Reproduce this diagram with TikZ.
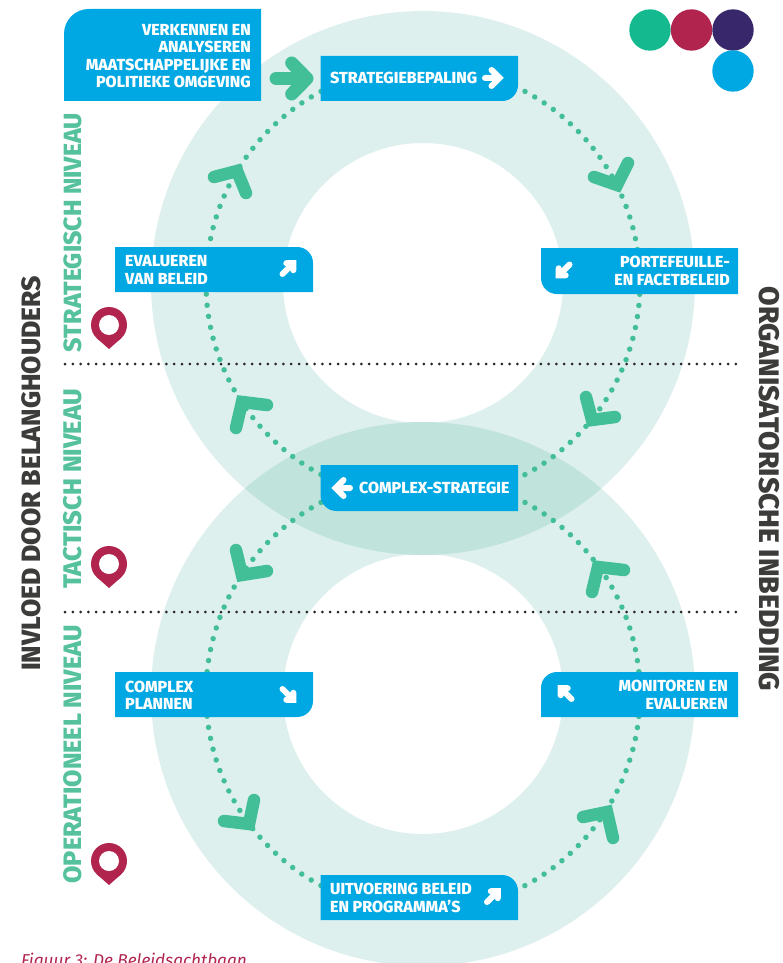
\documentclass[tikz,border=0pt]{standalone}
\usepackage{fontspec}
\setmainfont{Fira Sans}[BoldFont={Fira Sans ExtraBold}]
\definecolor{cring}{HTML}{DEF0EE}
\definecolor{clens}{HTML}{C0E3DC}
\definecolor{cblue}{HTML}{00A8E3}
\definecolor{cgreen}{HTML}{43BF98}
\definecolor{ctext}{HTML}{56C19D}
\definecolor{ccrim}{HTML}{B0244E}
\definecolor{cpurp}{HTML}{39276B}
\definecolor{cteal}{HTML}{15B990}
\definecolor{cdark}{HTML}{3C3C3B}
\tikzset{
  dotring/.style={cgreen,line width=5.5pt,line cap=round,dash pattern=on 0pt off 11.176pt},
  chevron/.style={cgreen,line width=12.5pt,line cap=round,line join=miter},
  warrow/.style={white,line width=6pt,line cap=round,line join=miter},
  bluefill/.style={fill=cblue},
  lbl/.style={white,font=\fontsize{16}{17.3}\selectfont\bfseries,inner sep=0pt},
  side/.style={inner sep=0pt},
  level/.style={side,ctext,rotate=90},
  levelline/.style={black!85,line width=3pt,line cap=round,dash pattern=on 0pt off 7.8pt},
  pinmark/.pic={
    \fill[ccrim] (0,0) circle[radius=18pt];
    \fill[ccrim] (-12.48,12.97) -- (0,24) -- (12.48,12.97) -- cycle;
    \fill[white] (0,0) circle[radius=10pt];
  },
  smallarrow/.pic={
    \draw[warrow] (-5.5,5.5) -- (5.3,-5.3) (-1.7,-5.3) -- (5.3,-5.3) -- (5.3,1.7);
  }
}
\begin{document}
\begin{tikzpicture}[x=1pt,y=-1pt]
\useasboundingbox (0,0) rectangle (783,963);
\clip (0,0) rectangle (783,963);
% rings
\fill[cring,even odd rule] (423,283) circle[radius=272pt] (423,283) circle[radius=140pt];
\fill[cring,even odd rule] (423,694) circle[radius=272pt] (423,694) circle[radius=140pt];
\begin{scope}
  \clip (423,283) circle[radius=272pt];
  \fill[clens] (423,694) circle[radius=272pt];
\end{scope}
% dotted circuits
\draw[dotring] (423,283) circle[radius=217pt];
\draw[dotring] (423,694) circle[radius=217pt];
% level separators
\draw[levelline] (65,364) -- (740,364);
\draw[levelline] (65,612) -- (740,612);
% chevrons
\draw[chevron] (214,177) -- (237,171) -- (246,193);
\draw[chevron] (594,177) -- (617,185) -- (628,163);
\draw[chevron] (586,397) -- (592,420) -- (615,417);
\draw[chevron] (267,405) -- (242,402) -- (236,428);
\draw[chevron] (236,550) -- (242,575) -- (267,571);
\draw[chevron] (592,592) -- (598,567) -- (624,570);
\draw[chevron] (224,821) -- (249,824) -- (254,800);
\draw[chevron] (583,817) -- (607,812) -- (613,838);
% boxes
\fill[bluefill] (64,34) .. controls (64,20) and (75,9) .. (89,9) -- (261,9) -- (261,101) -- (64,101) -- cycle;
\fill[bluefill] (320.5,56) -- (518,56) -- (518,85) .. controls (518,94) and (511,101) .. (502,101) -- (320.5,101) -- cycle;
\fill[bluefill] (541,248) -- (738,248) -- (738,294) -- (557,294) .. controls (548,294) and (541,287) .. (541,278) -- cycle;
\fill[bluefill] (115,247) -- (297,247) .. controls (306,247) and (313,254) .. (313,263) -- (313,292) -- (115,292) -- cycle;
\fill[bluefill] (320.5,465) -- (518,465) -- (518,511) -- (336.5,511) .. controls (327.5,511) and (320.5,504) .. (320.5,495) -- cycle;
\fill[bluefill] (115,672) -- (313,672) -- (313,701) .. controls (313,710) and (306,717) .. (297,717) -- (115,717) -- cycle;
\fill[bluefill] (557,672) -- (738,672) -- (738,717) -- (541,717) -- (541,688) .. controls (541,679) and (548,672) .. (557,672) -- cycle;
\fill[bluefill] (320.5,875) -- (502,875) .. controls (511,875) and (518,882) .. (518,891) -- (518,920) -- (320.5,920) -- cycle;
% top-left green arrow
\draw[chevron,line width=13pt] (276,78.5) -- (305,78.5);
\draw[chevron,line width=13pt,line join=round] (291.7,63) -- (307,78.5) -- (291.7,94);
% white arrows
\draw[warrow] (485,78) -- (499.5,78) (491.5,70) -- (499.5,78) -- (491.5,86);
\draw[warrow] (350,488) -- (335.5,488) (343.5,480) -- (335.5,488) -- (343.5,496);
\pic at (288,268.5) {smallarrow};
\pic[rotate=180] at (564,270) {smallarrow};
\pic[rotate=-90] at (288,694.5) {smallarrow};
\pic[rotate=90] at (566,693.5) {smallarrow};
\pic at (492.5,896.5) {smallarrow};
% labels
\node[lbl,align=right,anchor=east] (verkennen) at (251,56) {VERKENNEN EN\\ANALYSEREN\\MAATSCHAPPELIJKE EN\\POLITIEKE OMGEVING};
\node[lbl,anchor=west] (strategie) at (330,78) {STRATEGIEBEPALING};
\node[lbl,align=right,anchor=east] (portefeuille) at (730,271) {PORTEFEUILLE-\\EN FACETBELEID};
\node[lbl,align=left,anchor=west] (evalueren) at (125,270) {EVALUEREN\\VAN BELEID};
\node[lbl,anchor=west] (complexstrategie) at (359,488) {COMPLEX-STRATEGIE};
\node[lbl,align=left,anchor=west] (plannen) at (125,695) {COMPLEX\\PLANNEN};
\node[lbl,align=right,anchor=east] (monitoren) at (728,695) {MONITOREN EN\\EVALUEREN};
\node[lbl,align=left,anchor=west] (uitvoering) at (330,898) {UITVOERING BELEID\\EN PROGRAMMA'S};
% side texts
\node[side,cdark,rotate=90,font=\fontsize{26.5}{26.5}\selectfont\bfseries] (invloed) at (31,473.5) {INVLOED DOOR BELANGHOUDERS};
\node[side,cdark,rotate=-90,font=\fontsize{28.3}{28.3}\selectfont\bfseries] (inbedding) at (769.5,489) {ORGANISATORISCHE INBEDDING};
\node[level,font=\fontsize{24.9}{24.9}\selectfont\bfseries] (n1) at (73,232.5) {STRATEGISCH NIVEAU};
\node[level,font=\fontsize{25.5}{25.5}\selectfont\bfseries] (n2) at (73,489) {TACTISCH NIVEAU};
\node[level,font=\fontsize{25.2}{25.2}\selectfont\bfseries] (n3) at (73,754.5) {OPERATIONEEL NIVEAU};
% pins
\pic at (109,325) {pinmark};
\pic at (109,564) {pinmark};
\pic at (109,861) {pinmark};
% logo dots
\fill[cteal] (650,30) circle[radius=20.7pt];
\fill[ccrim] (691.5,30) circle[radius=20.7pt];
\fill[cpurp] (733,30) circle[radius=20.7pt];
\fill[cblue] (733,71) circle[radius=20.7pt];
% caption
\node[ccrim,anchor=base west,inner sep=0pt,font=\fontsize{17.2}{17.2}\selectfont\itshape] (caption) at (21,966) {Figuur 3: De Beleidsachtbaan};
\end{tikzpicture}
\end{document}
